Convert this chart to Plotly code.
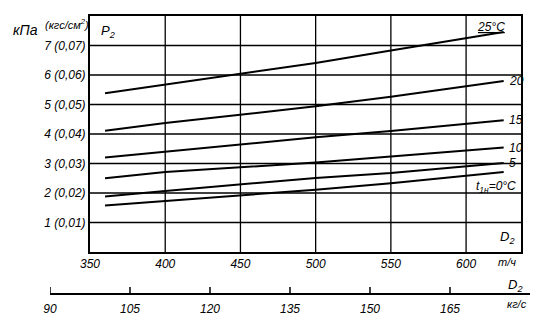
import plotly.graph_objects as go

# Data
D_th = [360, 400, 500, 550, 625]          # steam flow, t/h
curves = {
    "25": [5.38, 5.68, 6.41, 6.83, 7.46],
    "20": [4.11, 4.37, 4.94, 5.26, 5.80],
    "15": [3.20, 3.40, 3.89, 4.10, 4.47],
    "10": [2.50, 2.71, 3.03, 3.24, 3.54],
    "5":  [1.88, 2.07, 2.51, 2.68, 3.02],
    "0":  [1.58, 1.73, 2.11, 2.33, 2.71],
}
x_ticks = [350, 400, 450, 500, 550, 600]
y_ticks = [1, 2, 3, 4, 5, 6, 7]
y_ticktext = ["1 (0,01)", "2 (0,02)", "3 (0,03)", "4 (0,04)",
              "5 (0,05)", "6 (0,06)", "7 (0,07)"]
kg_ticks = [90, 105, 120, 135, 150, 165]

W, H = 552, 320
FONT = "Liberation Sans"
ink = "black"

fig = go.Figure()
for name, vals in curves.items():
    fig.add_trace(go.Scatter(x=D_th, y=vals, mode="lines",
                             line=dict(color=ink, width=2),
                             showlegend=False, hoverinfo="skip"))

# invisible trace so that the kg/s axis (x2) is drawn
fig.add_trace(go.Scatter(x=kg_ticks, y=[0.5] * len(kg_ticks), xaxis="x2", yaxis="y2",
                         mode="markers", marker=dict(opacity=0, size=1),
                         showlegend=False, hoverinfo="skip"))

tickfont = dict(family=FONT, size=12, color=ink, style="italic")

fig.update_layout(
    width=W, height=H,
    margin=dict(l=0, r=0, t=0, b=0),
    paper_bgcolor="white", plot_bgcolor="white",
    xaxis=dict(domain=[90 / W, 521 / W], range=[350, 636.5],
               tickmode="array", tickvals=x_ticks, ticks="", showgrid=False,
               showline=True, linecolor=ink, linewidth=2, mirror=True,
               zeroline=False, tickfont=tickfont, automargin=False,
               anchor="y"),
    yaxis=dict(domain=[(H - 252) / H, (H - 16) / H], range=[0, 8],
               tickmode="array", tickvals=y_ticks, ticktext=y_ticktext, ticks="",
               showgrid=False,
               showline=True, linecolor=ink, linewidth=2, mirror=True,
               zeroline=False, tickfont=tickfont, automargin=False,
               anchor="x"),
    xaxis2=dict(domain=[50 / W, 530 / W], range=[90, 180],
                tickmode="array", tickvals=kg_ticks, ticks="",
                showgrid=False, zeroline=False,
                showline=True, linecolor=ink, linewidth=2,
                tickfont=tickfont, anchor="y2", automargin=False,
                ticklabelstandoff=4),
    yaxis2=dict(domain=[(H - 293) / H, (H - 287) / H], range=[0, 1],
                showgrid=False, showline=False, zeroline=False,
                showticklabels=False, ticks="", anchor="x2"),
)

shapes = []
# vertical grid lines (t/h ticks)
for v in x_ticks[1:]:
    shapes.append(dict(type="line", xref="x", yref="y domain", x0=v, x1=v, y0=0, y1=1,
                       line=dict(color=ink, width=1.3), layer="below"))
# horizontal grid lines (kPa ticks)
for v in y_ticks:
    shapes.append(dict(type="line", xref="x domain", yref="y", x0=0, x1=1, y0=v, y1=v,
                       line=dict(color=ink, width=1.3), layer="below"))
# upward tick marks on the kg/s axis
for v in kg_ticks:
    shapes.append(dict(type="line", xref="x2", yref="y2", x0=v, x1=v, y0=0, y1=1,
                       line=dict(color=ink, width=1.5)))
fig.update_layout(shapes=shapes)

ann = []
def lab(text, x, y, xanchor="center", yanchor="middle", size=12, ref="paper", **kw):
    d = dict(text=text, showarrow=False, xanchor=xanchor, yanchor=yanchor,
             font=dict(family=FONT, size=size, color=ink, style="italic"))
    if ref == "paper":
        d.update(xref="paper", yref="paper", x=x / W, y=(H - y) / H)
    else:
        d.update(xref="x", yref="y", x=x, y=y)
    d.update(kw)
    ann.append(d)

# axis titles / units
lab("кПа", 25, 30, size=14)
lab("(кгс/см<sup>2</sup>)", 67, 24, size=11)
lab("P<sub>2</sub>", 108, 32, size=13)
lab("D<sub>2</sub>", 507, 237, size=13)
lab("т/ч", 507, 262, size=11)
lab("D<sub>2</sub>", 515, 285, size=13)
lab("кг/с", 517, 304, size=11)

# curve labels
xe = D_th[-1]
lab("<u>25°C</u>", xe, curves["25"][-1], xanchor="right", yanchor="bottom",
    ref="data", xshift=3, yshift=-4)
for k in ["20", "15", "10", "5"]:
    lab(k, xe, curves[k][-1], xanchor="left", ref="data", xshift=3, yshift=0)
lab("t<sub>1н</sub>=0°C", xe, curves["0"][-1], xanchor="right", yanchor="top",
    ref="data", xshift=14, yshift=-5)

fig.update_layout(annotations=ann)
fig.write_html("out.html")
